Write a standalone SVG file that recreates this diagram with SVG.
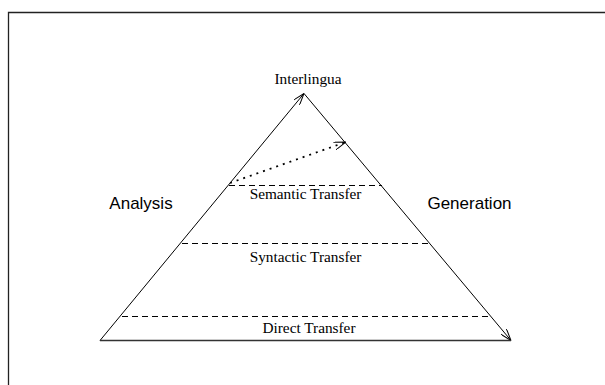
<svg xmlns="http://www.w3.org/2000/svg" width="605" height="385" viewBox="0 0 605 385">
<style>
.ln{stroke:#000;stroke-width:1;fill:none}
.dash{stroke:#000;stroke-width:1;fill:none;stroke-dasharray:6 4}
.dot{stroke:#000;stroke-width:1.8;fill:none;stroke-dasharray:2 5}
.serif{font-family:"Liberation Serif","Times New Roman",serif;font-size:15.3px;fill:#000;text-anchor:middle}
.sans{font-family:"Liberation Sans",Arial,sans-serif;font-size:17px;fill:#000;text-anchor:middle}
</style>
<defs>
<marker id="open" viewBox="0 0 12 8" refX="12" refY="4" markerWidth="12" markerHeight="8" markerUnits="userSpaceOnUse" orient="auto">
<path d="M0,0 L12,4 L0,8" fill="none" stroke="#000" stroke-width="1"/>
</marker>
</defs>
<rect width="605" height="385" fill="#fff"/>
<polyline points="8.5,385 8.5,12.5 605,12.5" fill="none" stroke="#222" stroke-width="1.3"/>
<g id="connectors">
<line class="ln" x1="100" y1="340.5" x2="304" y2="93.5" marker-end="url(#open)"/>
<line class="ln" x1="304" y1="93.5" x2="511" y2="340.5" marker-end="url(#open)"/>
<line x1="100" y1="340.5" x2="511" y2="340.5" stroke="#333" stroke-width="1.3"/>
<line class="dash" x1="229" y1="185.5" x2="382" y2="185.5"/>
<line class="dash" x1="182" y1="243.5" x2="428" y2="243.5"/>
<line class="dash" x1="122" y1="316.5" x2="488" y2="316.5"/>
<line class="dot" x1="230" y1="183" x2="346" y2="142" marker-end="url(#open)"/>
</g>
<g id="interlingua"><text class="serif" x="308" y="84">Interlingua</text></g>
<g id="semantic"><text class="serif" x="305.5" y="199">Semantic Transfer</text></g>
<g id="syntactic"><text class="serif" x="305.5" y="262">Syntactic Transfer</text></g>
<g id="direct"><text class="serif" x="309" y="333">Direct Transfer</text></g>
<g id="analysis"><text class="sans" x="141" y="209">Analysis</text></g>
<g id="generation"><text class="sans" x="469.5" y="209">Generation</text></g>
</svg>
